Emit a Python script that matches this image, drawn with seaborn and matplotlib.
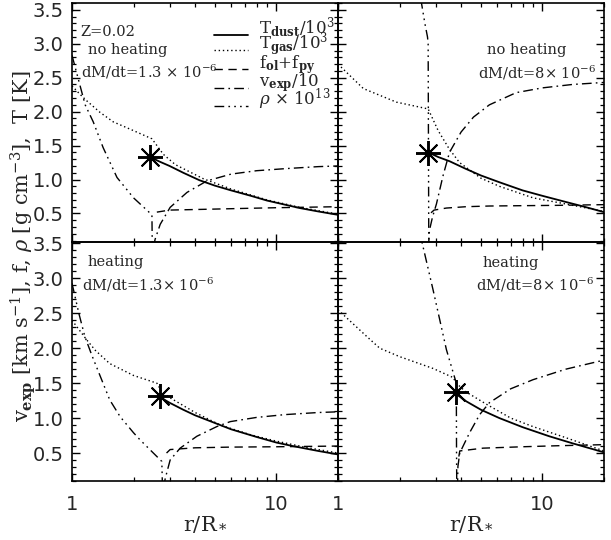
import numpy as np
import pandas as pd
import seaborn as sns
import matplotlib
matplotlib.use('Agg')
import matplotlib.pyplot as plt
from matplotlib.lines import Line2D
from matplotlib.ticker import LogLocator, MultipleLocator, AutoMinorLocator, NullFormatter

# ---- data (r in R*, values in plot units) ----
# top left: no heating, dM/dt = 1.3e-6
tl_tdust_r = [2.41, 2.7, 3.0, 3.5, 4.2, 5.0, 6.0, 7.5, 9.0, 11, 13, 16, 20]
tl_tdust_v = [1.33, 1.26, 1.2, 1.1, 0.99, 0.91, 0.84, 0.76, 0.69, 0.63, 0.58, 0.53, 0.48]
tl_tgas_r = [1, 1.09, 1.18, 1.37, 1.59, 2.0, 2.46, 2.8, 3.2, 4.4, 6.0, 9.0, 13, 20]
tl_tgas_v = [2.38, 2.26, 2.16, 1.99, 1.85, 1.72, 1.6, 1.37, 1.22, 1.01, 0.86, 0.7, 0.59, 0.49]
tl_f_r = [2.6, 3.0, 4.24, 7, 10, 16, 20]
tl_f_v = [0.52, 0.55, 0.56, 0.575, 0.585, 0.595, 0.6]
tl_vexp_r = [2.5, 2.55, 2.7, 3.02, 3.65, 4.57, 6.0, 8, 11, 16, 20]
tl_vexp_v = [0.0, 0.12, 0.34, 0.59, 0.81, 0.98, 1.08, 1.13, 1.16, 1.19, 1.2]
tl_rho_r = [1, 1.08, 1.16, 1.27, 1.42, 1.66, 2.0, 2.46, 2.47]
tl_rho_v = [2.83, 2.45, 2.1, 1.85, 1.47, 1.03, 0.73, 0.48, 0.0]
tl_star = (2.41, 1.33)

# top right: no heating, dM/dt = 8e-6
tr_tdust_r = [2.76, 3.1, 3.51, 4.2, 5.0, 6.16, 8, 10, 13, 16, 20]
tr_tdust_v = [1.40, 1.33, 1.27, 1.16, 1.06, 0.96, 0.84, 0.76, 0.67, 0.6, 0.52]
tr_tgas_r = [1, 1.33, 1.93, 2.76, 3.09, 3.5, 3.93, 5, 6.16, 9, 13, 20]
tr_tgas_v = [2.70, 2.34, 2.14, 2.04, 1.72, 1.45, 1.25, 1.02, 0.9, 0.73, 0.64, 0.53]
tr_f_r = [2.85, 2.95, 3.39, 4.24, 5.5, 8, 12, 20]
tr_f_v = [0.51, 0.55, 0.58, 0.6, 0.61, 0.615, 0.62, 0.63]
tr_vexp_r = [2.77, 2.8, 2.9, 3.03, 3.26, 3.51, 4.0, 4.6, 5.5, 7.44, 10, 14, 20]
tr_vexp_v = [0.0, 0.25, 0.45, 0.64, 1.05, 1.4, 1.7, 1.92, 2.1, 2.28, 2.35, 2.4, 2.43]
tr_rho_r = [2.5, 2.56, 2.66, 2.74, 2.76, 2.77, 2.78]
tr_rho_v = [3.9, 3.6, 3.3, 3.1, 3.0, 1.5, 0.0]
tr_star = (2.76, 1.39)

# bottom left: heating, dM/dt = 1.3e-6
bl_tdust_r = [2.70, 3.0, 3.5, 4.0, 5.0, 6.0, 8.0, 10, 12, 16, 20]
bl_tdust_v = [1.3, 1.22, 1.12, 1.04, 0.93, 0.84, 0.73, 0.65, 0.6, 0.53, 0.48]
bl_tgas_r = [1, 1.18, 1.3, 1.53, 2.0, 2.6, 2.75, 3.02, 4.0, 5.32, 7.5, 10, 14, 20]
bl_tgas_v = [2.40, 2.12, 1.97, 1.78, 1.61, 1.5, 1.38, 1.29, 1.08, 0.9, 0.76, 0.67, 0.58, 0.5]
bl_f_r = [2.9, 3.02, 4, 5.95, 10, 20]
bl_f_v = [0.5, 0.55, 0.575, 0.585, 0.59, 0.6]
bl_vexp_r = [2.8, 2.86, 3.02, 3.38, 4.08, 5.12, 5.95, 8, 11, 16, 20]
bl_vexp_v = [0.0, 0.14, 0.40, 0.57, 0.74, 0.88, 0.95, 1.01, 1.05, 1.08, 1.09]
bl_rho_r = [1, 1.08, 1.155, 1.25, 1.53, 1.72, 2.0, 2.15, 2.75, 2.77]
bl_rho_v = [2.93, 2.5, 2.17, 1.9, 1.26, 1.02, 0.79, 0.69, 0.38, 0.0]
bl_star = (2.70, 1.32)

# bottom right: heating, dM/dt = 8e-6
br_tdust_r = [3.76, 4.24, 5.0, 6.16, 8.0, 10.8, 14, 20]
br_tdust_v = [1.35, 1.24, 1.12, 1.0, 0.87, 0.74, 0.64, 0.51]
br_tgas_r = [1, 1.38, 1.6, 2.0, 2.92, 3.66, 3.79, 4.2, 5.31, 7, 8.96, 13, 20]
br_tgas_v = [2.55, 2.17, 2.0, 1.88, 1.71, 1.58, 1.5, 1.38, 1.2, 1.0, 0.88, 0.72, 0.53]
br_f_r = [3.9, 3.94, 5.12, 8, 12, 20]
br_f_v = [0.45, 0.53, 0.57, 0.59, 0.605, 0.62]
br_vexp_r = [3.84, 3.86, 3.94, 4.4, 4.93, 5.5, 7, 9, 13, 20]
br_vexp_v = [0.0, 0.31, 0.5, 0.79, 1.05, 1.22, 1.42, 1.55, 1.7, 1.83]
br_rho_r = [2.5, 2.56, 2.92, 3.39, 3.79, 3.8, 3.81]
br_rho_v = [3.8, 3.55, 2.83, 1.98, 1.5, 0.5, 0.0]
br_star = (3.76, 1.37)

legend_labels = [r'T$_{\mathbf{dust}}$/10$^3$', r'T$_{\mathbf{gas}}$/10$^3$',
                 r'f$_{\mathbf{ol}}$+f$_{\mathbf{py}}$', r'v$_{\mathbf{exp}}$/10',
                 r'$\rho$ $\times$ 10$^{13}$']

# ---- styles ----
styles = {
    'tdust': dict(ls='-', lw=1.3),
    'tgas': dict(ls=(0, (1, 2)), lw=1.0),
    'f': dict(ls=(0, (6, 4)), lw=1.0),
    'vexp': dict(ls=(0, (7, 3, 1.2, 3)), lw=1.0),
    'rho': dict(ls=(0, (7, 3, 1.2, 3, 1.2, 3, 1.2, 3)), lw=1.0),
}

sns.set_theme(style='ticks')
plt.rcParams['font.family'] = ['DejaVu Serif']
plt.rcParams['mathtext.fontset'] = 'dejavuserif'
plt.rcParams['xtick.minor.visible'] = True
plt.rcParams['ytick.minor.visible'] = True
plt.rcParams['xtick.minor.size'] = 3.2
plt.rcParams['ytick.minor.size'] = 3.2
plt.rcParams['xtick.major.size'] = 6
plt.rcParams['ytick.major.size'] = 6

fig = plt.figure(figsize=(6.11, 5.40), dpi=100)
gs = fig.add_gridspec(2, 2, left=72/611, right=604/611, top=1-3/540, bottom=1-481/540,
                      wspace=0, hspace=0)

panels = [
    (0, 0, tl_tdust_r, tl_tdust_v, tl_tgas_r, tl_tgas_v, tl_f_r, tl_f_v, tl_vexp_r, tl_vexp_v, tl_rho_r, tl_rho_v, tl_star),
    (0, 1, tr_tdust_r, tr_tdust_v, tr_tgas_r, tr_tgas_v, tr_f_r, tr_f_v, tr_vexp_r, tr_vexp_v, tr_rho_r, tr_rho_v, tr_star),
    (1, 0, bl_tdust_r, bl_tdust_v, bl_tgas_r, bl_tgas_v, bl_f_r, bl_f_v, bl_vexp_r, bl_vexp_v, bl_rho_r, bl_rho_v, bl_star),
    (1, 1, br_tdust_r, br_tdust_v, br_tgas_r, br_tgas_v, br_f_r, br_f_v, br_vexp_r, br_vexp_v, br_rho_r, br_rho_v, br_star),
]

axes = {}
for (row, col, tdr, tdv, tgr, tgv, fr, fv, vr, vv, rr, rv, star) in panels:
    ax = fig.add_subplot(gs[row, col])
    ax.set_facecolor('none')
    axes[(row, col)] = ax
    curves = [('tdust', tdr, tdv), ('tgas', tgr, tgv), ('f', fr, fv), ('vexp', vr, vv), ('rho', rr, rv)]
    for name, rr_, vv_ in curves:
        d = pd.DataFrame({'r': rr_, 'v': vv_})
        sns.lineplot(data=d, x='r', y='v', ax=ax, sort=False, estimator=None,
                     color='black', **styles[name])
    ax.plot([star[0]], [star[1]], marker=(8, 2, 0), ms=18, mew=1.4, color='black', ls='none')

    ax.set_xscale('log')
    ax.set_xlim(1, 20)
    if row == 0:
        ax.set_ylim(0.08, 3.6)
    else:
        ax.set_ylim(0.1, 3.52)
    ax.set_xlabel('')
    ax.set_ylabel('')
    ax.xaxis.set_major_locator(LogLocator(base=10, numticks=5))
    ax.xaxis.set_minor_locator(LogLocator(base=10, subs=np.arange(2, 10), numticks=20))
    ax.xaxis.set_minor_formatter(NullFormatter())
    ax.yaxis.set_major_locator(MultipleLocator(0.5))
    ax.yaxis.set_minor_locator(AutoMinorLocator(5))
    ax.tick_params(which='both', direction='in', top=True, right=True, color='black', width=1)
    ax.tick_params(which='major', length=6, labelsize=14)
    ax.tick_params(which='minor', length=3.2, width=0.9)
    for sp in ax.spines.values():
        sp.set_color('black')
        sp.set_linewidth(1.2)
    if row == 1:
        ax.set_xticks([1, 10])
        ax.set_xticklabels(['1', '10'], family='DejaVu Sans')
        ax.set_xlabel(r'r/R$_*$', fontsize=15, labelpad=0)
    else:
        ax.tick_params(axis='x', which='both', labelbottom=False)
    if col == 1:
        ax.tick_params(axis='y', which='both', labelleft=False)
    else:
        ax.set_yticks([0.5, 1.0, 1.5, 2.0, 2.5, 3.0, 3.5])
        ax.set_yticklabels(['0.5', '1.0', '1.5', '2.0', '2.5', '3.0', '3.5'], family='DejaVu Sans')
    ax.tick_params(axis='x', pad=10)
    ax.tick_params(axis='y', pad=6)

# annotations
fs = 10.5
tl = axes[(0, 0)]
tl.text(0.03, 0.879, 'Z=0.02', transform=tl.transAxes, fontsize=fs, va='center')
tl.text(0.06, 0.803, 'no heating', transform=tl.transAxes, fontsize=fs, va='center')
tl.text(0.034, 0.711, r'dM/dt=1.3 $\times$ 10$^{-6}$', transform=tl.transAxes, fontsize=fs, va='center')
tr = axes[(0, 1)]
tr.text(0.56, 0.803, 'no heating', transform=tr.transAxes, fontsize=fs, va='center')
tr.text(0.528, 0.708, r'dM/dt=8$\times$ 10$^{-6}$', transform=tr.transAxes, fontsize=fs, va='center')
bl = axes[(1, 0)]
bl.text(0.06, 0.918, 'heating', transform=bl.transAxes, fontsize=fs, va='center')
bl.text(0.036, 0.82, r'dM/dt=1.3$\times$ 10$^{-6}$', transform=bl.transAxes, fontsize=fs, va='center')
br = axes[(1, 1)]
br.text(0.542, 0.912, 'heating', transform=br.transAxes, fontsize=fs, va='center')
br.text(0.517, 0.82, r'dM/dt=8$\times$ 10$^{-6}$', transform=br.transAxes, fontsize=fs, va='center')

# legend drawn row by row inside the top-left panel
leg_rows = [0.866, 0.802, 0.722, 0.645, 0.567]
for k, yy, lab in zip(['tdust', 'tgas', 'f', 'vexp', 'rho'], leg_rows, legend_labels):
    tl.add_line(Line2D([0.532, 0.66], [yy, yy], transform=tl.transAxes, color='black',
                       clip_on=False, **styles[k]))
    tl.text(0.702, yy + 0.006, lab, transform=tl.transAxes, fontsize=12, va='baseline',
            clip_on=False)

fig.text(0.038, 0.544, r'v$_{\mathbf{exp}}$ [km s$^{-1}$], f, $\rho$ [g cm$^{-3}$],  T [K]',
         rotation=90, ha='center', va='center', fontsize=15)

fig.savefig('out.png', dpi=100)
